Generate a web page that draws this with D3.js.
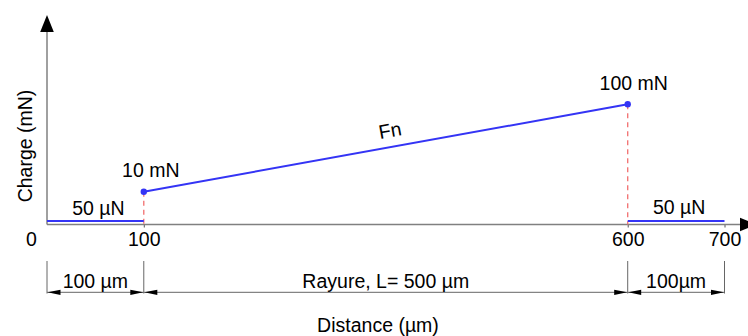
<!DOCTYPE html>
<html>
<head>
<meta charset="utf-8">
<script src="https://cdn.jsdelivr.net/npm/d3@7"></script>
<style>
  html, body { margin: 0; padding: 0; background: #fff; }
  svg { display: block; font-family: "Liberation Sans", Arial, sans-serif; }
</style>
</head>
<body>
<svg id="chart" width="748" height="336"></svg>
<script>
// ---- data ----
const xTicks = [0, 100, 600, 700];                       // distance (µm)
const preScratch  = [[0, 0.05], [100, 0.05]];            // [distance µm, load mN]
const scratch     = [[100, 10], [600, 100]];
const postScratch = [[600, 0.05], [700, 0.05]];
const pointLabels = ["10 mN", "100 mN"];
const flatLabels  = ["50 µN", "50 µN"];
const lineLabel   = "Fn";
const dimStarts   = [0, 100, 600];
const dimEnds     = [100, 600, 700];
const dimLabels   = ["100 µm", "Rayure, L= 500 µm", "100µm"];
const xTitle = "Distance (µm)";
const yTitle = "Charge (mN)";

// ---- scales ----
const svg = d3.select("#chart");
const x = d3.scaleLinear().domain([0, 700]).range([47, 724.5]);
// schematic (non-proportional) load axis
const y = d3.scaleLinear().domain([0, 0.05, 10, 100]).range([224.5, 221, 191.7, 104.3]);

const blue = "#3434f5", red = "#f26f6f", axisGray = "#808080", fontSize = 19.5;

// ---- axes ----
const xAxisG = svg.append("g").attr("transform", `translate(0,${y(0)})`)
  .call(d3.axisBottom(x).tickValues(xTicks).tickSize(3).tickPadding(5).tickFormat(d3.format("d")));
xAxisG.select(".domain").remove();
xAxisG.selectAll(".tick line").attr("stroke", "#555");
xAxisG.selectAll(".tick text").attr("font-size", fontSize).attr("fill", "#000")
  .attr("font-family", "Liberation Sans, Arial, sans-serif")
  .attr("dx", d => d === 0 ? -16 : 0);
xAxisG.select(".tick").select("line").remove(); // no tick at origin

svg.append("line").attr("x1", x(0)).attr("x2", 740).attr("y1", y(0)).attr("y2", y(0))
  .attr("stroke", axisGray).attr("stroke-width", 1.5);
svg.append("path").attr("d", `M740,${y(0) - 6.7}L757,${y(0)}L740,${y(0) + 6.7}Z`).attr("fill", "#000");

svg.append("line").attr("x1", x(0)).attr("x2", x(0)).attr("y1", 32).attr("y2", y(0))
  .attr("stroke", axisGray).attr("stroke-width", 1.5);
svg.append("path").attr("d", `M${x(0) - 6.8},32L${x(0)},15L${x(0) + 6.8},32Z`).attr("fill", "#000");

// ---- dashed guides ----
scratch.forEach(d => {
  svg.append("line").attr("x1", x(d[0])).attr("x2", x(d[0])).attr("y1", y(d[1])).attr("y2", y(0))
    .attr("stroke", red).attr("stroke-width", 1.3).attr("stroke-dasharray", "5,4");
});

// ---- series ----
const line = d3.line().x(d => x(d[0])).y(d => y(d[1]));
[preScratch, scratch, postScratch].forEach(s => {
  svg.append("path").datum(s).attr("d", line).attr("fill", "none")
    .attr("stroke", blue).attr("stroke-width", 2);
});
svg.selectAll("circle.pt").data(scratch).enter().append("circle")
  .attr("cx", d => x(d[0])).attr("cy", d => y(d[1])).attr("r", 3.2).attr("fill", blue);

// ---- labels ----
const txt = (t, px, py, anchor = "middle") => svg.append("text").attr("x", px).attr("y", py)
  .attr("text-anchor", anchor).attr("font-size", fontSize).attr("fill", "#000").text(t);

txt(pointLabels[0], x(scratch[0][0]) + 7, y(scratch[0][1]) - 15);
txt(pointLabels[1], x(scratch[1][0]) + 6, y(scratch[1][1]) - 14);
txt(flatLabels[0], (x(preScratch[0][0]) + x(preScratch[1][0])) / 2 + 3, y(preScratch[0][1]) - 6);
txt(flatLabels[1], (x(postScratch[0][0]) + x(postScratch[1][0])) / 2 + 3, y(postScratch[0][1]) - 7.5);

const ang = Math.atan2(y(scratch[1][1]) - y(scratch[0][1]), x(scratch[1][0]) - x(scratch[0][0])) * 180 / Math.PI;
const mx = (x(scratch[0][0]) + x(scratch[1][0])) / 2 + 5.5;
svg.append("text").attr("transform", `translate(${mx},137) rotate(${ang})`)
  .attr("text-anchor", "middle").attr("font-size", fontSize).attr("fill", "#000").text(lineLabel);

// ---- dimension lines ----
const dimY = 292.3, extTop = 261, extBot = 293.5;
xTicks.forEach(v => {
  svg.append("line").attr("x1", x(v)).attr("x2", x(v)).attr("y1", extTop).attr("y2", extBot)
    .attr("stroke", "#666").attr("stroke-width", 1);
});
const arrow = (tipX, dir) => {
  const L = 13, h = 2.6;
  svg.append("path").attr("d", `M${tipX},${dimY}L${tipX + dir * L},${dimY - h}L${tipX + dir * L},${dimY + h}Z`)
    .attr("fill", "#000");
};
dimStarts.forEach((s, i) => {
  const a = x(s), b = x(dimEnds[i]);
  svg.append("line").attr("x1", a).attr("x2", b).attr("y1", dimY).attr("y2", dimY)
    .attr("stroke", "#666").attr("stroke-width", 1);
  arrow(a + 0.5, 1);
  arrow(b - 0.5, -1);
  txt(dimLabels[i], (a + b) / 2, 288);
});

// ---- axis titles ----
txt(xTitle, 378, 332);
svg.append("text").attr("transform", `translate(32,146) rotate(-90)`)
  .attr("text-anchor", "middle").attr("font-size", fontSize).attr("fill", "#000").text(yTitle);
</script>
</body>
</html>
